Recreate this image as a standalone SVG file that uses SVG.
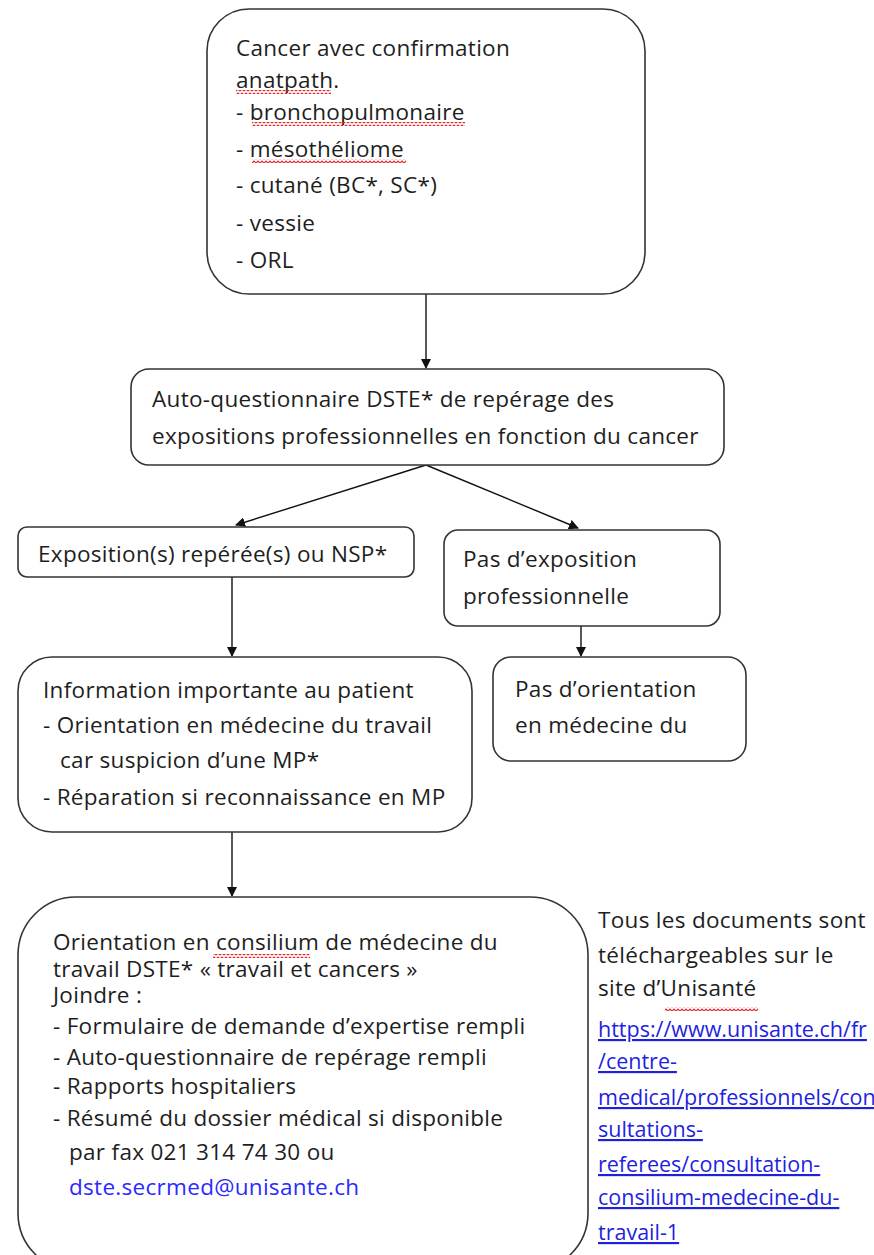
<svg xmlns="http://www.w3.org/2000/svg" width="874" height="1255" viewBox="0 0 874 1255">
<defs>
<style>
.box{fill:#fff;stroke:#333;stroke-width:1.6}
.t{font-family:"Open Sans","Liberation Sans",sans-serif;font-size:22.5px;letter-spacing:0.3px;fill:#1e1e1e}
.lnk{font-size:21.5px;letter-spacing:0;fill:#1f1fe0;text-decoration:underline}
.em{fill:#2a2aff}
.c{stroke:#111;stroke-width:1.4;fill:none;marker-end:url(#ah)}
</style>
<marker id="ah" viewBox="0 0 10 10" refX="9" refY="5" markerWidth="10" markerHeight="10" markerUnits="userSpaceOnUse" orient="auto">
<path d="M0,0 L10,5 L0,10 z" fill="#111"/>
</marker>
<pattern id="wave" width="4" height="4" patternUnits="userSpaceOnUse">
<path d="M0,3 L2,1 L4,3" fill="none" stroke="#e02020" stroke-width="1.1"/>
</pattern>
</defs>
<rect width="874" height="1255" fill="#fff"/>

<g id="connectors">
<line class="c" x1="426" y1="294" x2="426" y2="368"/>
<line class="c" x1="426" y1="465" x2="236" y2="525"/>
<line class="c" x1="426" y1="465" x2="578" y2="528"/>
<line class="c" x1="232" y1="577" x2="232" y2="656"/>
<line class="c" x1="581" y1="617" x2="581" y2="656"/>
<line class="c" x1="232" y1="832" x2="232" y2="896"/>
</g>

<g id="n1">
<rect class="box" x="207" y="9" width="438" height="285" rx="42"/>
<text class="t" x="236" y="56">Cancer avec confirmation</text>
<text class="t" x="236" y="88">anatpath.</text>
<text class="t" x="236" y="120">- bronchopulmonaire</text>
<text class="t" x="236" y="157">- mésothéliome</text>
<text class="t" x="236" y="193">- cutané (BC*, SC*)</text>
<text class="t" x="236" y="231">- vessie</text>
<text class="t" x="236" y="268">- ORL</text>
<rect x="236" y="90" width="95" height="4" fill="url(#wave)"/>
<rect x="252" y="122" width="213" height="4" fill="url(#wave)"/>
<rect x="252" y="159" width="154" height="4" fill="url(#wave)"/>
</g>

<g id="n2">
<rect class="box" x="131" y="369" width="593" height="96" rx="18"/>
<text class="t" x="152" y="407">Auto-questionnaire DSTE* de repérage des</text>
<text class="t" x="152" y="444">expositions professionnelles en fonction du cancer</text>
</g>

<g id="n3">
<rect class="box" x="18" y="527" width="396" height="50" rx="9"/>
<text class="t" x="38" y="562">Exposition(s) repérée(s) ou NSP*</text>
</g>

<g id="n4">
<rect class="box" x="444" y="530" width="276" height="96" rx="14"/>
<text class="t" x="463" y="567">Pas d’exposition</text>
<text class="t" x="463" y="604">professionnelle</text>
</g>

<g id="n5">
<rect class="box" x="18" y="657" width="454" height="175" rx="34"/>
<text class="t" x="43" y="698">Information importante au patient</text>
<text class="t" x="43" y="733">- Orientation en médecine du travail</text>
<text class="t" x="60" y="768">car suspicion d’une MP*</text>
<text class="t" x="43" y="805">- Réparation si reconnaissance en MP</text>
</g>

<g id="n6">
<rect class="box" x="493" y="657" width="253" height="104" rx="18"/>
<text class="t" x="515" y="697">Pas d’orientation</text>
<text class="t" x="515" y="733">en médecine du</text>
</g>

<g id="n7">
<rect class="box" x="18" y="897" width="570" height="374" rx="58"/>
<text class="t" x="53" y="950">Orientation en consilium de médecine du</text>
<text class="t" x="53" y="977">travail DSTE* « travail et cancers »</text>
<text class="t" x="53" y="1003">Joindre :</text>
<text class="t" x="53" y="1034">- Formulaire de demande d’expertise rempli</text>
<text class="t" x="53" y="1065">- Auto-questionnaire de repérage rempli</text>
<text class="t" x="53" y="1094">- Rapports hospitaliers</text>
<text class="t" x="53" y="1126">- Résumé du dossier médical si disponible</text>
<text class="t" x="69" y="1160">par fax 021 314 74 30 ou</text>
<text class="t em" x="69" y="1195">dste.secrmed@unisante.ch</text>
<rect x="213" y="954" width="97" height="4" fill="url(#wave)"/>
</g>

<g id="note">
<text class="t" x="598" y="928">Tous les documents sont</text>
<text class="t" x="598" y="963">téléchargeables sur le</text>
<text class="t" x="598" y="996">site d’Unisanté</text>
<rect x="665" y="1007" width="93" height="4" fill="url(#wave)"/>
<text class="t lnk" x="598" y="1037">https://www.unisante.ch/fr</text>
<text class="t lnk" x="598" y="1069">/centre-</text>
<text class="t lnk" x="598" y="1105">medical/professionnels/con</text>
<text class="t lnk" x="598" y="1137">sultations-</text>
<text class="t lnk" x="598" y="1172">referees/consultation-</text>
<text class="t lnk" x="598" y="1205">consilium-medecine-du-</text>
<text class="t lnk" x="598" y="1240">travail-1</text>
</g>
</svg>
